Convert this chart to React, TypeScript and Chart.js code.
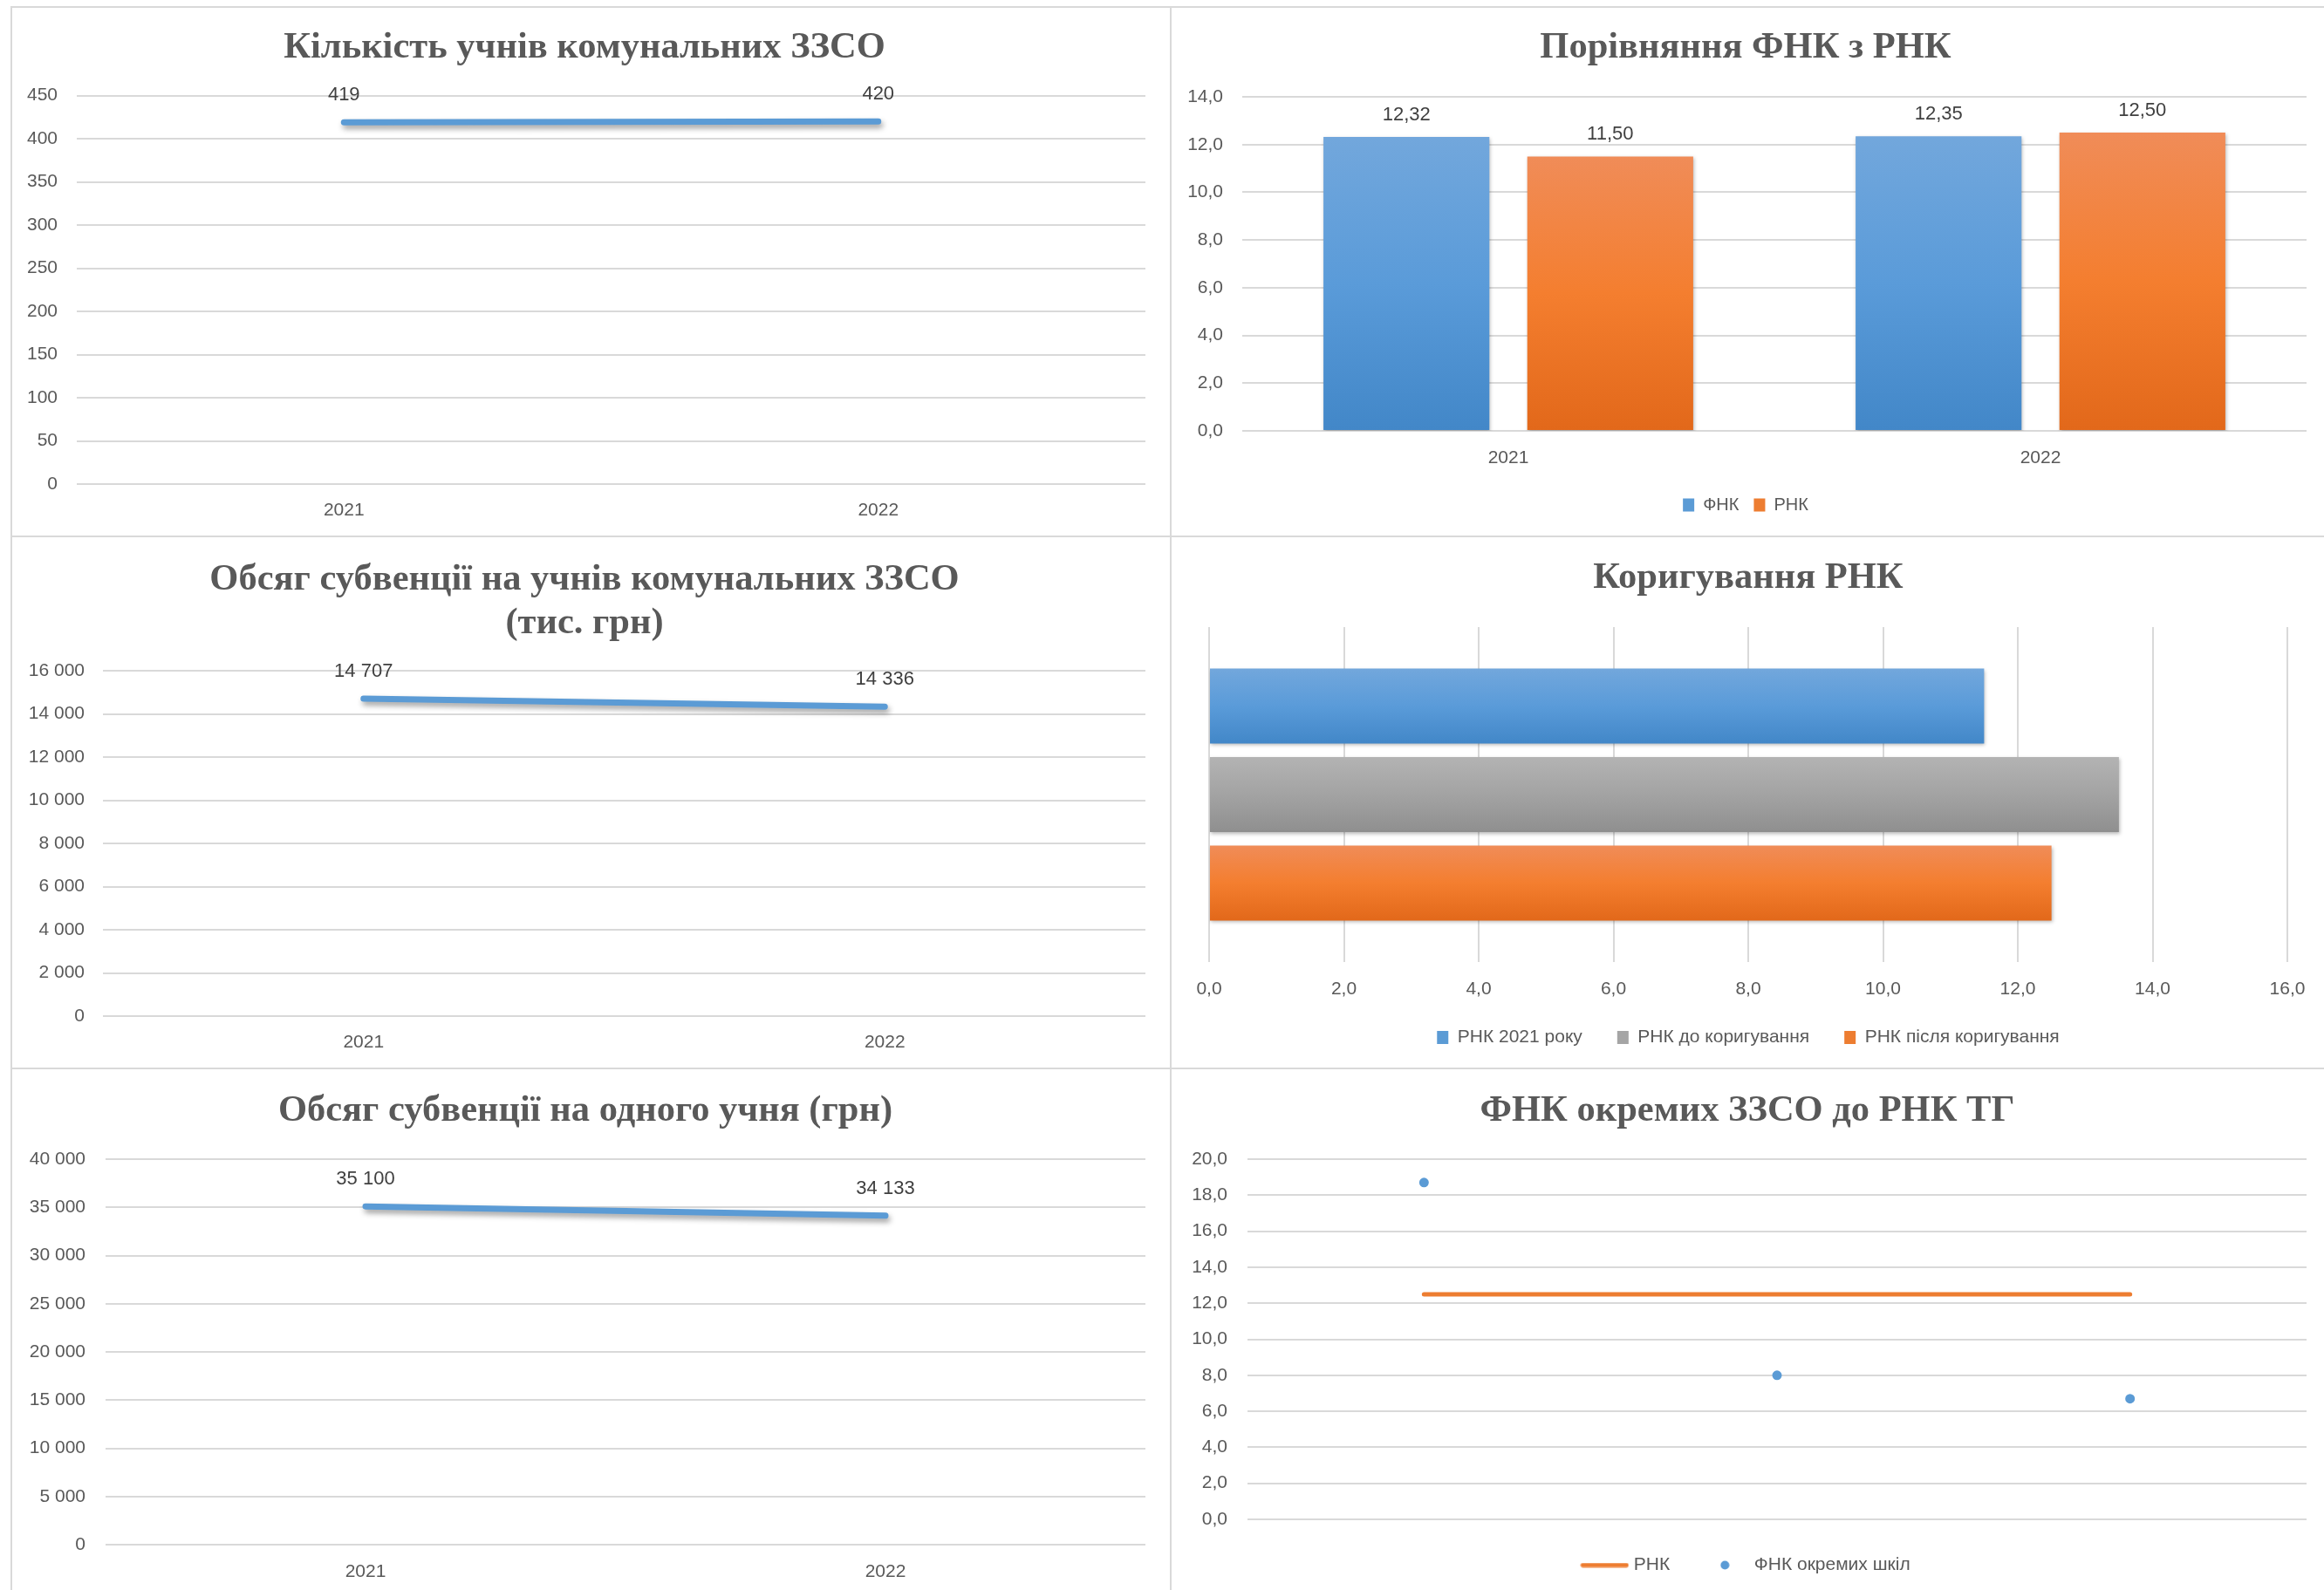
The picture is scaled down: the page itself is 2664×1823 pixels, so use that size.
import React, { useEffect, useRef } from "react";
import { Chart, registerables } from "chart.js";

Chart.register(...registerables);

// ---------------- data ----------------
const years = ["2021", "2022"];
const pupilCounts = [419, 420];
const subventionThousands = [14707, 14336];
const subventionPerPupil = [35100, 34133];

const fnkByYear = [12.32, 12.35];
const rnkByYear = [11.5, 12.5];

const adjustCategory = ["РНК"];
const adjustNames = ["РНК 2021 року", "РНК до коригування", "РНК після коригування"];
const adjustValues = [11.5, 13.5, 12.5];

const schoolNames = ["ЗЗСО 1", "ЗЗСО 2", "ЗЗСО 3"];
const rnkLevel = [12.5, 12.5, 12.5];
const fnkSchools = [18.7, 8.0, 6.7];

const chartTitles = [
  "Кількість учнів комунальних ЗЗСО",
  "Порівняння ФНК з РНК",
  ["Обсяг субвенції на учнів комунальних ЗЗСО", "(тис. грн)"],
  "Коригування РНК",
  "Обсяг субвенції на одного учня (грн)",
  "ФНК окремих ЗЗСО до РНК ТГ",
];

// ---------------- styles ----------------
const SANS = "'Liberation Sans', Arial, sans-serif";
const SERIF = "'Liberation Serif', 'Times New Roman', serif";
const TEXT = "#595959";
const LABEL = "#404040";
const GRID = "#d9d9d9";
const BLUE = "#5b9bd5";
const ORANGE = "#ed7d31";
const GRAY = "#a5a5a5";
const BLUE_STOPS = ["#72a7dc", "#5a9bd9", "#4287c8"];
const ORANGE_STOPS = ["#f08c58", "#f47e2f", "#e2681a"];
const GRAY_STOPS = ["#b3b3b3", "#a3a3a3", "#8f8f8f"];
const TITLE_SIZE = 42.5;

Chart.defaults.font.family = SANS;

const fmtSpace = (v: number) => String(Math.round(v)).replace(/\B(?=(\d{3})+(?!\d))/g, " ");
const fmtComma1 = (v: number) => v.toFixed(1).replace(".", ",");
const fmtComma2 = (v: number) => v.toFixed(2).replace(".", ",");
const fmtInt = (v: number) => String(Math.round(v));

// ---------------- plugins (closures) ----------------
function makeShadow(color: string, blur: number, ox: number, oy: number) {
  return {
    id: "shadow",
    beforeDatasetDraw(chart: any) {
      const ctx = chart.ctx;
      ctx.save();
      ctx.shadowColor = color;
      ctx.shadowBlur = blur;
      ctx.shadowOffsetX = ox;
      ctx.shadowOffsetY = oy;
    },
    afterDatasetDraw(chart: any) {
      chart.ctx.restore();
    },
  };
}

function makeValueLabels(format: (v: number) => string, offset: number) {
  return {
    id: "valueLabels",
    afterDatasetsDraw(chart: any) {
      const ctx = chart.ctx;
      ctx.save();
      ctx.font = `22px ${SANS}`;
      ctx.fillStyle = LABEL;
      ctx.textAlign = "center";
      ctx.textBaseline = "middle";
      chart.data.datasets.forEach((ds: any, di: number) => {
        const meta = chart.getDatasetMeta(di);
        meta.data.forEach((el: any, i: number) => {
          ctx.fillText(format(ds.data[i]), el.x, el.y - offset);
        });
      });
      ctx.restore();
    },
  };
}

// ---------------- helpers ----------------
const fixW = (w: number) => (axis: any) => {
  axis.width = w;
};
const fixH = (h: number) => (axis: any) => {
  axis.height = h;
};
// fixed height, and let the tick labels draw below the (short) axis box
const fixHUnclipped = (h: number) => (axis: any) => {
  axis.height = h;
  axis._computeLabelArea = () => undefined;
};

function titleOpts(text: any, padTop: number, padBottom: number, lineHeight = 1.2) {
  return {
    display: true,
    text,
    color: TEXT,
    font: { family: SERIF, size: TITLE_SIZE, weight: "bold" as const, lineHeight },
    padding: { top: padTop, bottom: padBottom },
  };
}

function valueAxis(min: number, max: number, step: number, width: number, pad: number, fmt: (v: number) => string) {
  return {
    min,
    max,
    afterFit: fixW(width),
    border: { display: false },
    grid: { color: GRID, lineWidth: 2, drawTicks: false },
    ticks: {
      stepSize: step,
      padding: pad,
      color: TEXT,
      font: { family: SANS, size: 21 },
      callback: (v: any) => fmt(Number(v)),
    },
  };
}

function categoryAxis(height: number, pad: number, showTicks = true) {
  return {
    type: "category" as const,
    offset: true,
    afterFit: fixH(height),
    border: { display: false },
    grid: { display: false, drawTicks: false },
    ticks: { display: showTicks, padding: pad, color: TEXT, font: { family: SANS, size: 21 } },
  };
}

function vGradient(c: any, stops: string[], fallback: string) {
  const chart = c.chart;
  const area = chart.chartArea;
  if (!area || c.type !== "data" || typeof c.raw !== "number") return fallback;
  const y = chart.scales.y;
  const y0 = y.getPixelForValue(c.raw);
  const y1 = y.getPixelForValue(0);
  if (!isFinite(y0) || !isFinite(y1) || Math.abs(y1 - y0) < 1) return fallback;
  const g = chart.ctx.createLinearGradient(0, y0, 0, y1);
  g.addColorStop(0, stops[0]);
  g.addColorStop(0.5, stops[1]);
  g.addColorStop(1, stops[2]);
  return g;
}

const H_CAT = 0.793;
const H_BAR = 0.847;
function hGradient(c: any, stops: string[], fallback: string) {
  const chart = c.chart;
  const area = chart.chartArea;
  if (!area || c.type !== "data") return fallback;
  const yScale = chart.scales.y;
  const n = chart.data.datasets.length;
  const catSize = (area.bottom - area.top) / chart.data.labels.length;
  const center = yScale.getPixelForValue(c.dataIndex);
  const slot = (catSize * H_CAT) / n;
  const mid = center + (c.datasetIndex - (n - 1) / 2) * slot;
  const half = (slot * H_BAR) / 2;
  if (!isFinite(mid)) return fallback;
  const g = chart.ctx.createLinearGradient(0, mid - half, 0, mid + half);
  g.addColorStop(0, stops[0]);
  g.addColorStop(0.5, stops[1]);
  g.addColorStop(1, stops[2]);
  return g;
}

function solidLegend(colors: string[]) {
  return (chart: any) => {
    const items = Chart.defaults.plugins.legend.labels.generateLabels(chart);
    return items.map((it: any) => ({
      ...it,
      fillStyle: colors[it.datasetIndex],
      strokeStyle: colors[it.datasetIndex],
      lineWidth: 0,
      fontColor: TEXT,
    }));
  };
}

const base = {
  responsive: false,
  animation: false as const,
  devicePixelRatio: 1,
  events: [] as any[],
};

// ---------------- chart configs ----------------
function lineConfig(
  values: number[],
  title: any,
  layoutPad: any,
  titlePad: [number, number, number],
  y: [number, number, number, number, number],
  x: [number, number],
  fmt: (v: number) => string
) {
  return {
    type: "line" as const,
    data: {
      labels: years,
      datasets: [
        {
          label: "",
          data: values,
          borderColor: BLUE,
          backgroundColor: BLUE,
          borderWidth: 7,
          borderCapStyle: "round" as const,
          pointRadius: 0,
          tension: 0,
          clip: false as any,
        },
      ],
    },
    options: {
      ...base,
      layout: { padding: layoutPad },
      plugins: {
        legend: { display: false },
        tooltip: { enabled: false },
        title: titleOpts(title, titlePad[0], titlePad[1], titlePad[2]),
      },
      scales: {
        x: categoryAxis(x[0], x[1]),
        y: valueAxis(y[0], y[1], y[2], y[3], y[4], fmt),
      },
    },
    plugins: [makeShadow("rgba(0,0,0,0.38)", 6, 2, 4), makeValueLabels(fmt, 31)],
  };
}

function chart1() {
  return lineConfig(
    pupilCounts,
    chartTitles[0],
    { top: 11, left: 14, right: 29, bottom: 0 },
    [10.25, 29.4, 1.2],
    [0, 450, 50, 61, 22],
    [60, 18],
    fmtInt
  );
}

function chart3() {
  return lineConfig(
    subventionThousands,
    chartTitles[2],
    { top: 11, left: 14, right: 29, bottom: 0 },
    [14.3, 29.3, 1.17],
    [0, 16000, 2000, 91, 21],
    [60, 18],
    fmtSpace
  );
}

function chart5() {
  return lineConfig(
    subventionPerPupil,
    chartTitles[4],
    { top: 11, left: 16, right: 29, bottom: 0 },
    [12.25, 29.75, 1.2],
    [0, 40000, 5000, 92, 23],
    [52, 19],
    fmtSpace
  );
}

function chart2() {
  return {
    type: "bar" as const,
    data: {
      labels: years,
      datasets: [
        {
          label: "ФНК",
          data: fnkByYear,
          backgroundColor: (c: any) => vGradient(c, BLUE_STOPS, BLUE),
          borderWidth: 0,
          categoryPercentage: 0.766,
          barPercentage: 0.814,
        },
        {
          label: "РНК",
          data: rnkByYear,
          backgroundColor: (c: any) => vGradient(c, ORANGE_STOPS, ORANGE),
          borderWidth: 0,
          categoryPercentage: 0.766,
          barPercentage: 0.814,
        },
      ],
    },
    options: {
      ...base,
      layout: { padding: { top: 11, left: 16, right: 20, bottom: 16 } },
      plugins: {
        tooltip: { enabled: false },
        title: titleOpts(chartTitles[1], 10.25, 30.75),
        legend: {
          display: true,
          position: "bottom" as const,
          labels: {
            boxWidth: 13,
            boxHeight: 15,
            padding: 17,
            color: TEXT,
            font: { family: SANS, size: 20 },
            generateLabels: solidLegend([BLUE, ORANGE]),
          },
        },
      },
      scales: {
        x: categoryAxis(58, 19),
        y: valueAxis(0, 14, 2, 66, 22, fmtComma1),
      },
    },
    plugins: [makeShadow("rgba(0,0,0,0.28)", 4, 1, 2), makeValueLabels(fmtComma2, 25)],
  };
}

function chart4() {
  const stops = [BLUE_STOPS, GRAY_STOPS, ORANGE_STOPS];
  const solids = [BLUE, GRAY, ORANGE];
  return {
    type: "bar" as const,
    data: {
      labels: adjustCategory,
      datasets: adjustNames.map((name, i) => ({
        label: name,
        data: [adjustValues[i]],
        backgroundColor: (c: any) => hGradient(c, stops[i], solids[i]),
        borderWidth: 0,
        categoryPercentage: H_CAT,
        barPercentage: H_BAR,
      })),
    },
    options: {
      ...base,
      indexAxis: "y" as const,
      layout: { padding: { top: 11, left: 44, right: 42, bottom: 15 } },
      plugins: {
        tooltip: { enabled: false },
        title: titleOpts(chartTitles[3], 11.25, 30.75),
        legend: {
          display: true,
          position: "bottom" as const,
          labels: {
            boxWidth: 13,
            boxHeight: 15,
            padding: 40,
            color: TEXT,
            font: { family: SANS, size: 21 },
            generateLabels: solidLegend(solids),
          },
        },
      },
      scales: {
        x: {
          min: 0,
          max: 16,
          afterFit: fixHUnclipped(36),
          border: { display: false },
          grid: { color: GRID, lineWidth: 2, drawTicks: false },
          ticks: {
            stepSize: 2,
            padding: 19,
            color: TEXT,
            font: { family: SANS, size: 21 },
            callback: (v: any) => fmtComma1(Number(v)),
          },
        },
        y: { type: "category" as const, display: false },
      },
    },
    plugins: [makeShadow("rgba(0,0,0,0.28)", 4, 1, 2)],
  };
}

function chart6() {
  const lineImg = document.createElement("canvas");
  lineImg.width = 56;
  lineImg.height = 6;
  const lc = lineImg.getContext("2d")!;
  lc.strokeStyle = ORANGE;
  lc.lineWidth = 5;
  lc.lineCap = "round";
  lc.beginPath();
  lc.moveTo(3, 3);
  lc.lineTo(53, 3);
  lc.stroke();

  const dotImg = document.createElement("canvas");
  dotImg.width = 11;
  dotImg.height = 11;
  const dc = dotImg.getContext("2d")!;
  dc.fillStyle = BLUE;
  dc.beginPath();
  dc.arc(5.5, 5.5, 5, 0, Math.PI * 2);
  dc.fill();

  const images = [lineImg, dotImg];
  const colors = [ORANGE, BLUE];

  return {
    type: "line" as const,
    data: {
      labels: schoolNames,
      datasets: [
        {
          label: "РНК",
          data: rnkLevel,
          borderColor: ORANGE,
          backgroundColor: ORANGE,
          borderWidth: 5,
          borderCapStyle: "round" as const,
          pointRadius: 0,
          clip: false as any,
        },
        {
          label: "ФНК окремих шкіл",
          data: fnkSchools,
          showLine: false,
          borderColor: BLUE,
          backgroundColor: BLUE,
          pointBackgroundColor: BLUE,
          pointBorderWidth: 0,
          pointRadius: 5.5,
          clip: false as any,
        },
      ],
    },
    options: {
      ...base,
      layout: { padding: { top: 11, left: 20, right: 20, bottom: 8 } },
      plugins: {
        tooltip: { enabled: false },
        title: titleOpts(chartTitles[5], 12.25, 29.75),
        legend: {
          display: true,
          position: "bottom" as const,
          labels: {
            usePointStyle: true,
            pointStyleWidth: 46,
            padding: 40,
            color: TEXT,
            font: { family: SANS, size: 21 },
            generateLabels: (chart: any) =>
              chart.data.datasets.map((ds: any, i: number) => ({
                text: ds.label,
                pointStyle: images[i],
                fillStyle: colors[i],
                strokeStyle: colors[i],
                lineWidth: 0,
                hidden: false,
                datasetIndex: i,
                fontColor: TEXT,
              })),
          },
        },
      },
      scales: {
        x: categoryAxis(2, 0, false),
        y: valueAxis(0, 20, 2, 68, 23, fmtComma1),
      },
    },
  };
}

// ---------------- components ----------------
function ChartBox(props: { left: number; top: number; width: number; height: number; make: () => any }) {
  const ref = useRef<HTMLCanvasElement>(null);
  useEffect(() => {
    const chart = new Chart(ref.current as HTMLCanvasElement, props.make());
    return () => chart.destroy();
  }, []);
  return (
    <canvas
      ref={ref}
      width={props.width}
      height={props.height}
      style={{ position: "absolute", left: props.left, top: props.top, width: props.width, height: props.height }}
    />
  );
}

const panels = [
  { left: 13, top: 8, width: 1329, height: 607, make: chart1 },
  { left: 1342, top: 8, width: 1322, height: 607, make: chart2 },
  { left: 13, top: 615, width: 1329, height: 610, make: chart3 },
  { left: 1342, top: 615, width: 1322, height: 610, make: chart4 },
  { left: 13, top: 1225, width: 1329, height: 598, make: chart5 },
  { left: 1342, top: 1225, width: 1322, height: 598, make: chart6 },
];

const rule = (left: number, top: number, width: number, height: number) => (
  <div style={{ position: "absolute", left, top, width, height, background: GRID }} />
);

export default function App() {
  return (
    <div
      style={{
        position: "absolute",
        left: 0,
        top: 0,
        width: 2664,
        height: 1823,
        overflow: "hidden",
        background: "#ffffff",
      }}
    >
      {rule(12, 7, 2652, 2)}
      {rule(12, 614, 2652, 2)}
      {rule(12, 1224, 2652, 2)}
      {rule(12, 7, 2, 1816)}
      {rule(1341, 7, 2, 1816)}
      {panels.map((p, i) => (
        <ChartBox key={i} left={p.left} top={p.top} width={p.width} height={p.height} make={p.make} />
      ))}
    </div>
  );
}
